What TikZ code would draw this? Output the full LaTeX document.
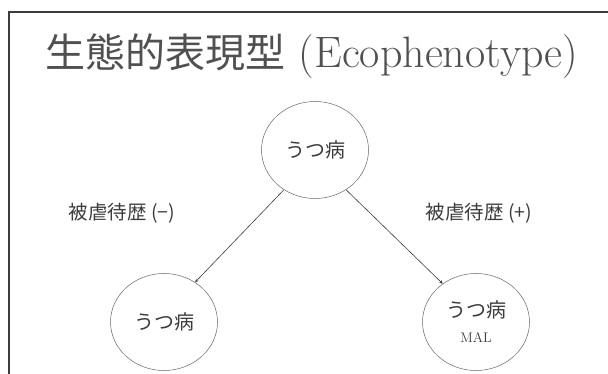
\documentclass[tikz,border=0pt]{standalone}
\usepackage{fontspec}
\usepackage{tikz}
\usetikzlibrary{shapes.geometric}
\newfontfamily\jp{Noto Sans CJK JP}
\definecolor{inkgray}{HTML}{3C3C3C}
\definecolor{titlegray}{HTML}{505050}

\begin{document}
\begin{tikzpicture}[x=1pt, y=-1pt,
    stage/.style={ellipse, draw=gray!80!black, line width=0.5pt,
        minimum width=107pt, minimum height=97pt, inner sep=0pt,
        text=inkgray, font=\jp\fontsize{20}{22}\selectfont},
    history/.style={text=inkgray, font=\jp\fontsize{19.5}{21}\selectfont},
    link/.style={->, >=stealth, draw=inkgray, line width=0.6pt}]
    \useasboundingbox (0,0) rectangle (608,374);

    % frame of the slide
    \draw[line width=1.2pt, draw=inkgray] (9,374) -- (9,12) -- (608,12);

    \node[text=titlegray, anchor=west] (title) at (42,56)
        {\jp\fontsize{40}{44}\selectfont 生態的表現型\fontsize{44}{48}\selectfont\rmfamily\ (Ecophenotype)};

    \node[stage] (top) at (315,150) {うつ病};
    \node[stage] (left) at (164,322) {うつ病};
    \node[stage, align=center] (right) at (476,322)
        {うつ病\\[3pt]{\rmfamily\fontsize{14}{16}\selectfont MAL}};

    \node[history] (neg) at (122,213) {被虐待歴 (−)};
    \node[history] (pos) at (479,213) {被虐待歴 (+)};

    \draw[link] (top.232) -- (left.52);
    \draw[link] (top.308) -- (right.131);
\end{tikzpicture}
\end{document}
